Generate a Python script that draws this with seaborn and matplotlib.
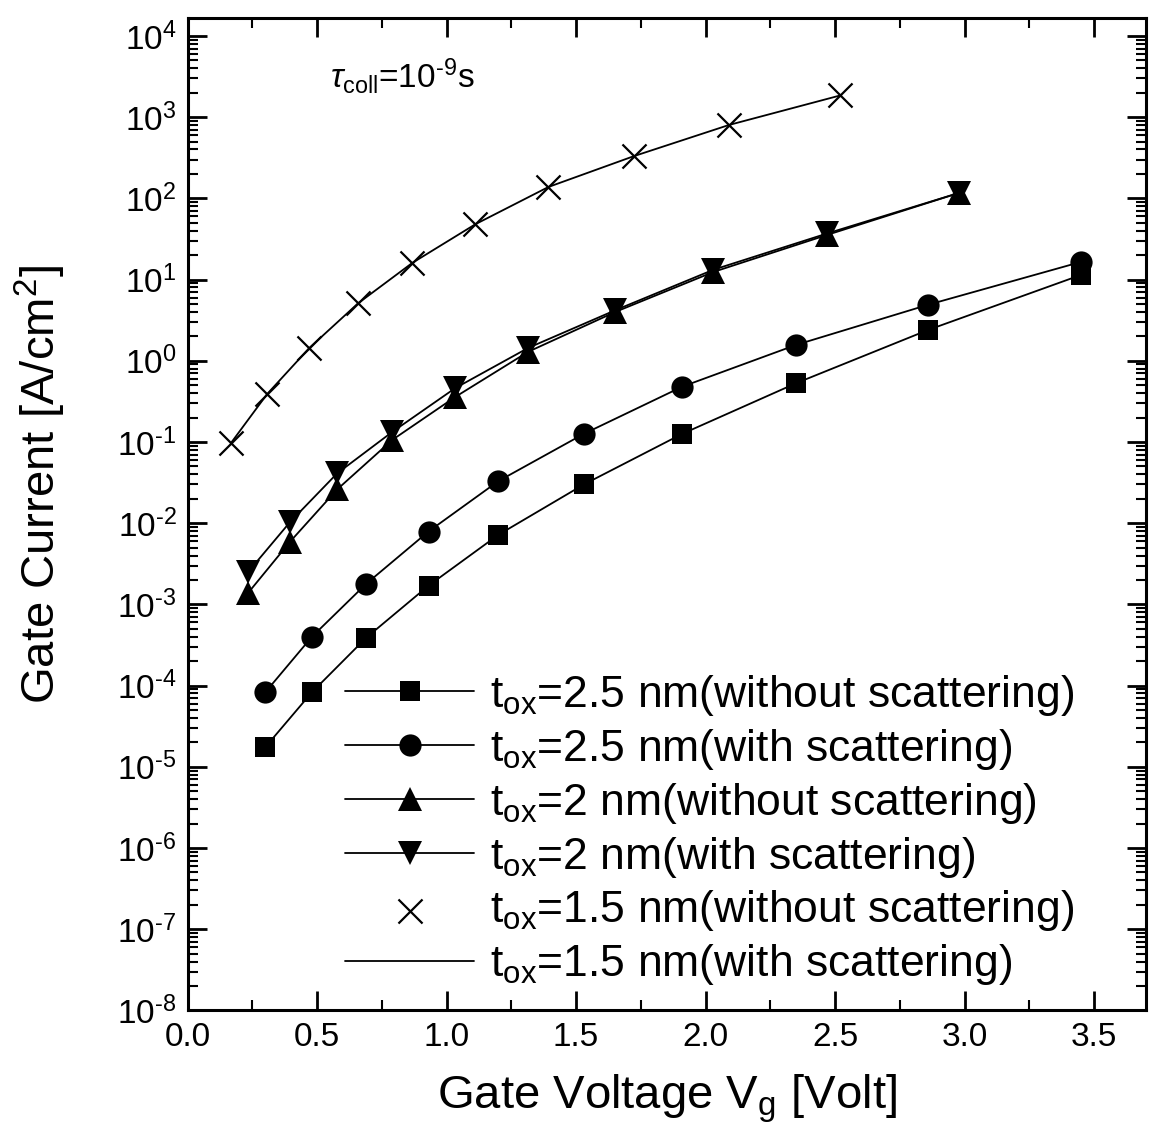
import matplotlib
matplotlib.use("Agg")
import matplotlib.pyplot as plt
import seaborn as sns
import numpy as np
import pandas as pd
from matplotlib.ticker import MultipleLocator, LogLocator, NullFormatter, FuncFormatter

# ---- data ----
vg_25 = [0.30, 0.48, 0.69, 0.93, 1.20, 1.53, 1.91, 2.35, 2.86, 3.45]
j_25_without = [1.75e-5, 8.3e-5, 3.9e-4, 1.7e-3, 7.2e-3, 3.0e-2, 0.126, 0.53, 2.4, 11.4]
j_25_with = [8.3e-5, 4.0e-4, 1.8e-3, 7.9e-3, 0.033, 0.126, 0.48, 1.57, 4.9, 16.5]

vg_20 = [0.233, 0.395, 0.577, 0.790, 1.033, 1.315, 1.652, 2.03, 2.47, 2.98]
j_20_without = [1.38e-3, 5.9e-3, 0.026, 0.106, 0.358, 1.29, 4.0, 12.4, 35.5, 117]
j_20_with = [2.5e-3, 1.03e-2, 0.041, 0.133, 0.46, 1.44, 4.2, 13.2, 37, 117]

vg_15 = [0.168, 0.307, 0.470, 0.658, 0.867, 1.111, 1.393, 1.722, 2.09, 2.52]
j_15_without = [0.098, 0.39, 1.44, 5.1, 16, 48, 138, 330, 800, 1850]
j_15_with = [0.098, 0.39, 1.44, 5.1, 16, 48, 138, 330, 800, 1850]

labels = [
    r"t$_{\rm ox}$=2.5 nm(without scattering)",
    r"t$_{\rm ox}$=2.5 nm(with scattering)",
    r"t$_{\rm ox}$=2 nm(without scattering)",
    r"t$_{\rm ox}$=2 nm(with scattering)",
    r"t$_{\rm ox}$=1.5 nm(without scattering)",
    r"t$_{\rm ox}$=1.5 nm(with scattering)",
]
x_ticks = [0.0, 0.5, 1.0, 1.5, 2.0, 2.5, 3.0, 3.5]

sns.set_style("ticks")
plt.rcParams["font.family"] = ["Liberation Sans", "DejaVu Sans"]
plt.rcParams["mathtext.fontset"] = "custom"
plt.rcParams["mathtext.rm"] = "Liberation Sans"
plt.rcParams["mathtext.it"] = "Liberation Sans:italic"
plt.rcParams["mathtext.bf"] = "Liberation Sans:bold"
plt.rcParams["axes.unicode_minus"] = False
for k in ["text.color", "axes.labelcolor", "xtick.color", "ytick.color", "axes.edgecolor"]:
    plt.rcParams[k] = "black"

fig = plt.figure(figsize=(11.55, 11.29), dpi=100)
ax = fig.add_axes([0.1625, 0.105, 0.8295, 0.879])

lw = 1.3
common = dict(color="black", linewidth=lw, ax=ax)

sns.lineplot(x=vg_25, y=j_25_without, marker="s", markersize=15, markeredgewidth=0,
             label=labels[0], **common)
sns.lineplot(x=vg_25, y=j_25_with, marker="o", markersize=16, markeredgewidth=0,
             label=labels[1], **common)
sns.lineplot(x=vg_20, y=j_20_without, marker="^", markersize=17, markeredgewidth=0,
             label=labels[2], **common)
sns.lineplot(x=vg_20, y=j_20_with, marker="v", markersize=17, markeredgewidth=0,
             label=labels[3], **common)
sns.scatterplot(x=vg_15, y=j_15_without, marker="x", s=300, linewidth=1.6,
                color="black", label=labels[4], ax=ax, zorder=3)
sns.lineplot(x=vg_15, y=j_15_with, label=labels[5], **common)

ax.set_yscale("log")
ax.set_xlim(0, 3.7)
ax.set_ylim(1e-8, 10 ** 4.22)


def log_label(v, pos):
    e = int(round(np.log10(v)))
    return r"10$^{\text{%d}}$" % e


ax.set_xticks(x_ticks)
ax.set_xticklabels([f"{v:.1f}" for v in x_ticks])
ax.xaxis.set_minor_locator(MultipleLocator(0.25))
ax.yaxis.set_major_locator(LogLocator(base=10, numticks=20))
ax.yaxis.set_major_formatter(FuncFormatter(log_label))
ax.yaxis.set_minor_locator(LogLocator(base=10, subs=np.arange(2, 10), numticks=20))
ax.yaxis.set_minor_formatter(NullFormatter())

ax.tick_params(which="both", direction="in", top=True, right=True, colors="black")
ax.tick_params(which="major", length=14, width=2, labelsize=24, pad=8)
ax.tick_params(which="minor", length=7, width=1.5)
for s in ax.spines.values():
    s.set_linewidth(2.2)
    s.set_color("black")

ax.set_xlabel(r"Gate Voltage V$_{\rm g}$ [Volt]", fontsize=34, labelpad=14)
ax.set_ylabel(r"Gate Current [A/cm$^{2}$]", fontsize=34)
ax.yaxis.set_label_coords(-0.125, 0.53)

ax.text(0.55, 10 ** 3.5, r"$\tau_{\rm coll}$=10$^{\text{-9}}$s", fontsize=24,
        ha="left", va="center")

leg = ax.legend(loc="upper left", bbox_to_anchor=(0.299, 0.404),
                bbox_transform=fig.transFigure, frameon=False, fontsize=32,
                handlelength=2.9, handletextpad=0.35, labelspacing=0.2,
                borderpad=0, borderaxespad=0)
for t in leg.get_texts():
    t.set_color("black")

fig.savefig("out.png", dpi=100)
